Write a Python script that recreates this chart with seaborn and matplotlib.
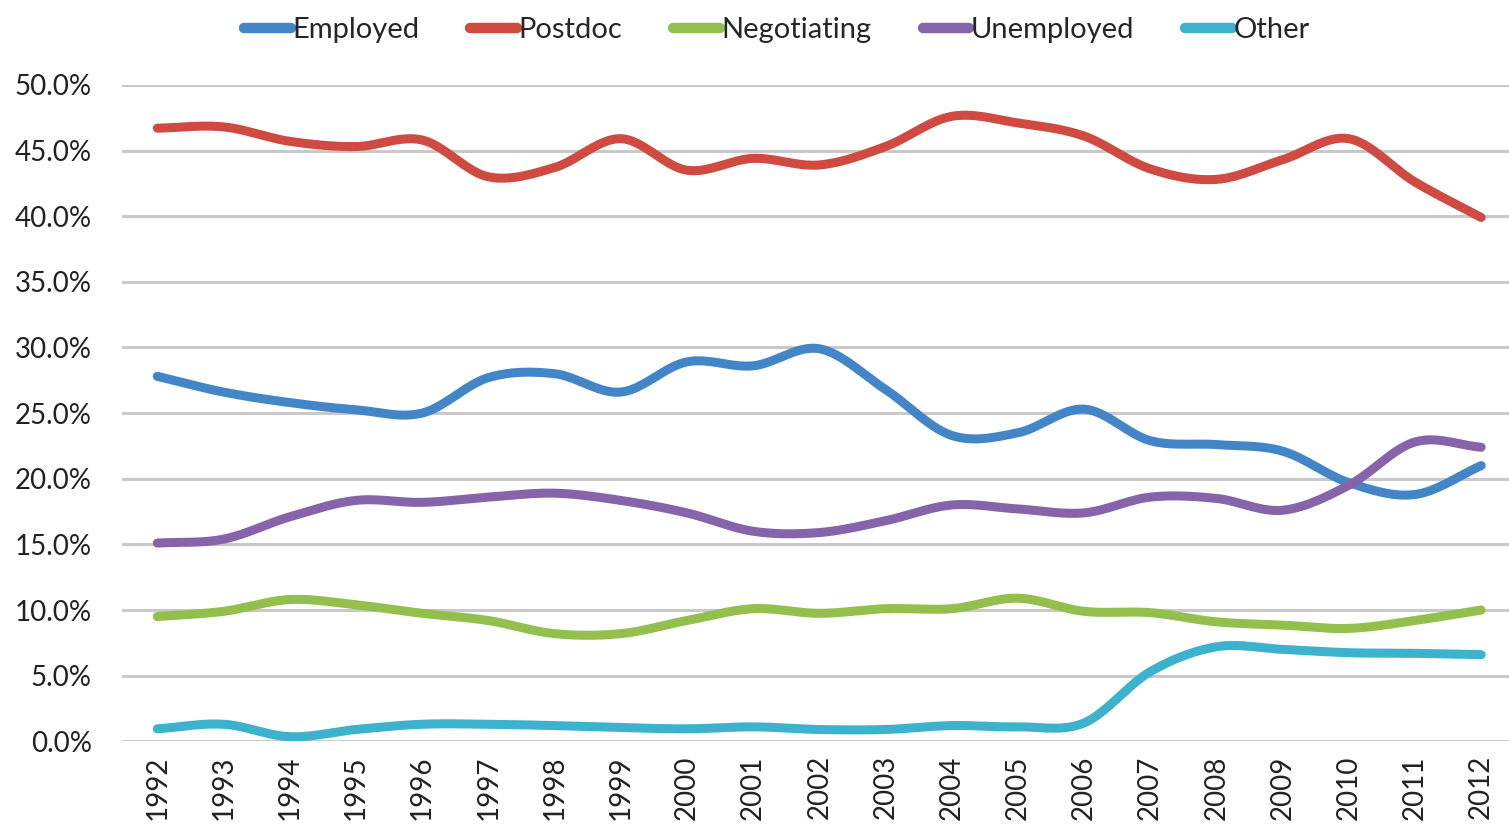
import numpy as np
import pandas as pd
import matplotlib
matplotlib.use("Agg")
import matplotlib.pyplot as plt
import seaborn as sns

# =========================
# DATA (% of graduates)
# =========================
years = list(range(1992, 2013))

employed = [27.8, 26.6, 25.8, 25.25, 25.0, 27.7, 28.0, 26.6, 28.9, 28.6, 29.9,
            26.8, 23.3, 23.5, 25.3, 22.9, 22.6, 22.1, 19.7, 18.8, 21.0]
postdoc = [46.7, 46.8, 45.7, 45.3, 45.8, 43.0, 43.7, 45.9, 43.5, 44.4, 43.9,
           45.3, 47.6, 47.1, 46.1, 43.6, 42.8, 44.3, 45.9, 42.6, 39.9]
negotiating = [9.5, 9.9, 10.8, 10.4, 9.75, 9.2, 8.2, 8.2, 9.2, 10.1, 9.75,
               10.1, 10.1, 10.9, 9.9, 9.8, 9.1, 8.85, 8.6, 9.2, 10.0]
unemployed = [15.1, 15.4, 17.1, 18.35, 18.2, 18.6, 18.9, 18.35, 17.4, 16.0, 15.9,
              16.8, 18.0, 17.7, 17.4, 18.6, 18.5, 17.6, 19.5, 22.8, 22.4]
other = [0.95, 1.3, 0.35, 0.9, 1.3, 1.3, 1.2, 1.05, 0.95, 1.1, 0.9,
         0.9, 1.2, 1.1, 1.4, 5.3, 7.2, 7.0, 6.75, 6.7, 6.6]

series = ["Employed", "Postdoc", "Negotiating", "Unemployed", "Other"]
colors = ["#4286c8", "#cf4a40", "#93bf4c", "#8763aa", "#3cb2cc"]


# =========================
# smooth line like the spreadsheet ("smoothed line" = Catmull-Rom)
# =========================
def smooth(x, y, n=40):
    x = np.asarray(x, float)
    y = np.asarray(y, float)
    px = np.concatenate([[2 * x[0] - x[1]], x, [2 * x[-1] - x[-2]]])
    py = np.concatenate([[2 * y[0] - y[1]], y, [2 * y[-1] - y[-2]]])
    xs, ys = [], []
    t = np.linspace(0, 1, n, endpoint=False)
    for i in range(1, len(px) - 2):
        for p, out in ((px, xs), (py, ys)):
            p0, p1, p2, p3 = p[i - 1], p[i], p[i + 1], p[i + 2]
            out.extend(0.5 * ((2 * p1) + (-p0 + p2) * t
                              + (2 * p0 - 5 * p1 + 4 * p2 - p3) * t ** 2
                              + (-p0 + 3 * p1 - 3 * p2 + p3) * t ** 3))
    xs.append(x[-1])
    ys.append(y[-1])
    return np.array(xs), np.array(ys)


rows = []
for name, vals in zip(series, [employed, postdoc, negotiating, unemployed, other]):
    sx, sy = smooth(years, vals)
    rows.append(pd.DataFrame({"year": sx, "value": sy, "status": name}))
df = pd.concat(rows, ignore_index=True)

# =========================
# PLOT
# =========================
sns.set_style("white")
plt.rcParams["font.family"] = ["Lato", "DejaVu Sans"]

fig = plt.figure(figsize=(15.09, 8.32), dpi=100)
ax = fig.add_axes([0.081, 0.109, 0.919, 0.789])

sns.lineplot(data=df, x="year", y="value", hue="status", hue_order=series,
             palette=colors, linewidth=6.5, ax=ax, sort=False,
             solid_capstyle="round")

ax.set_xlim(1991.47, 2012.42)
ax.set_ylim(0, 50)
ax.set_yticks(np.arange(0, 50.1, 5))
ax.set_yticklabels([f"{v:.1f}%" for v in np.arange(0, 50.1, 5)], fontsize=20, color="#222222")
ax.set_xticks(years)
ax.set_xticklabels([str(y) for y in years], rotation=90, fontsize=20, color="#222222")
ax.tick_params(axis="both", length=0, pad=10)
ax.tick_params(axis="y", pad=22)
ax.yaxis.grid(True, color="#c9c9c9", linewidth=2.2)
ax.set_axisbelow(True)
for s in ax.spines.values():
    s.set_visible(False)
ax.set_xlabel("")
ax.set_ylabel("")

handles, labels = ax.get_legend_handles_labels()
for h in handles:
    h.set_linewidth(7.5)
ax.legend(handles, labels, loc="center", bbox_to_anchor=(0.472, 1.083), ncol=5,
          frameon=False, fontsize=21, handlelength=1.6, handletextpad=0.05,
          columnspacing=1.75)

fig.savefig("out.png", dpi=100)
